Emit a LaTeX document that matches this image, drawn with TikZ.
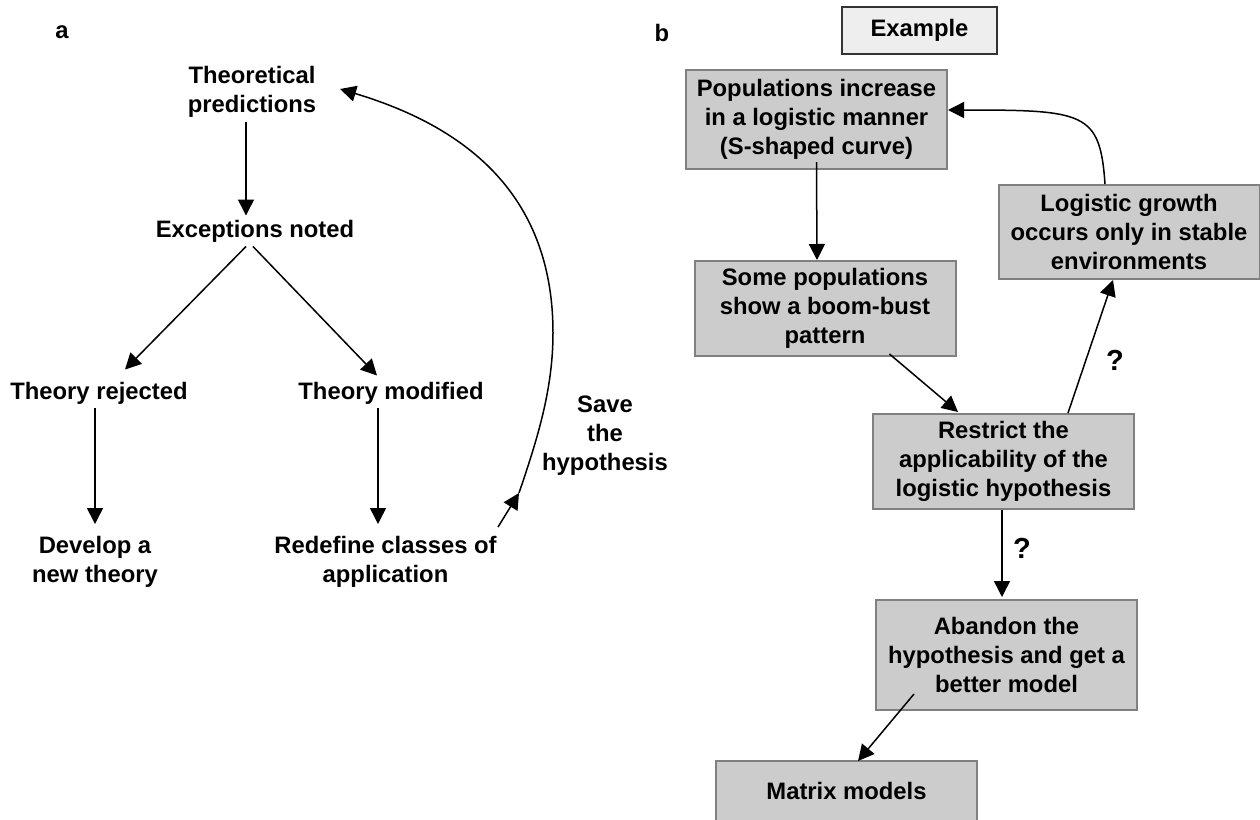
\documentclass[tikz,border=0pt]{standalone}
\usepackage{fontspec}
\setmainfont{Liberation Sans}
\usetikzlibrary{arrows.meta}
\definecolor{boxfill}{HTML}{CCCCCC}
\definecolor{boxline}{HTML}{808080}
\definecolor{exfill}{HTML}{EEEEEE}
\definecolor{exline}{HTML}{333333}
\begin{document}
\begin{tikzpicture}[x=0.5pt,y=-0.5pt,
  lbl/.style={font=\bfseries\fontsize{11.9}{14.5}\selectfont, align=center, inner sep=2pt},
  qlbl/.style={font=\bfseries\fontsize{14.5}{17}\selectfont, inner sep=2pt},
  gbox/.style={lbl, draw=boxline, fill=boxfill, line width=1pt, minimum width=130.5pt},
  exbox/.style={lbl, draw=exline, fill=exfill, line width=1pt, minimum width=77.5pt, minimum height=23.5pt},
  arr/.style={-{Triangle[length=8pt,width=8pt]}, line width=0.75pt}]
\useasboundingbox (0,0) rectangle (1260,820);
% ---------- panel a ----------
\node[lbl] (la) at (62,32) {a};
\node[lbl] (tp) at (252,92) {Theoretical\\predictions};
\node[lbl] (en) at (255,231) {Exceptions noted};
\node[lbl] (tr) at (99,393) {Theory rejected};
\node[lbl] (tm) at (391,393) {Theory modified};
\node[lbl] (dev) at (95,562) {Develop a\\new theory};
\node[lbl] (red) at (385.5,562) {Redefine classes of\\application};
\node[lbl] (save) at (605,436) {Save\\the\\hypothesis};
\coordinate (mid) at (519,493);
\draw[arr] ([xshift=-3pt]tp.south) -- ([xshift=-4.5pt]en.north);
\draw[arr] ([xshift=-4.5pt]en.south) -- ([xshift=13pt,yshift=4pt]tr.north);
\draw[arr] ([xshift=-1pt]en.south) -- ([xshift=-7pt,yshift=1pt]tm.north);
\draw[arr] ([xshift=-2pt]tr.south) -- ([yshift=4pt]dev.north);
\draw[arr] ([xshift=-6.5pt]tm.south) -- ([xshift=-3.75pt,yshift=4pt]red.north);
\draw[arr] ([xshift=-1.5pt,yshift=2.5pt]red.north east) -- (mid);
\draw[arr] (mid) .. controls (537,440) and (553,390) .. (553,333)
  .. controls (553,190) and (460,125) .. ([xshift=9.75pt,yshift=1.5pt]tp.east);
% ---------- panel b ----------
\node[lbl] (lb) at (662,33) {b};
\node[exbox] (ex) at (919.5,30.5) {Example};
\node[gbox, minimum height=49.5pt] (b1) at (816.5,119.5) {Populations increase\\in a logistic manner\\(S-shaped curve)};
\node[gbox, minimum height=47pt] (lg) at (1129,232) {Logistic growth\\occurs only in stable\\environments};
\node[gbox, minimum height=47.5pt] (b2) at (825,308.5) {Some populations\\show a boom-bust\\pattern};
\node[gbox, minimum height=47.5pt] (rs) at (1003.5,461.5) {Restrict the\\applicability of the\\logistic hypothesis};
\node[gbox, minimum height=55pt] (ab) at (1006.5,655) {Abandon the\\hypothesis and get a\\better model};
\node[gbox, minimum height=30pt] (mx) at (846.5,791) {Matrix models};
\node[qlbl] (q1) at (1115,360) {?};
\node[qlbl] (q2) at (1022,548) {?};
\draw[arr] ([yshift=4pt]b1.south) -- ([xshift=-4pt]b2.north);
\draw[arr] ([xshift=-12pt]lg.north) .. controls (1100,112) and (1085,110) .. ([yshift=4.75pt]b1.east);
\draw[arr] ([xshift=-33.5pt,yshift=1.5pt]b2.south east) -- ([xshift=-22.75pt,yshift=0.5pt]rs.north);
\draw[arr] ([xshift=32.25pt]rs.north) -- ([xshift=-8pt]lg.south);
\draw[arr] ([xshift=-0.75pt]rs.south) -- ([xshift=-2.25pt,yshift=1pt]ab.north);
\draw[arr] ([xshift=19.5pt,yshift=8.5pt]ab.south west) -- ([xshift=5.75pt,yshift=-0.5pt]mx.north);
\end{tikzpicture}
\end{document}
